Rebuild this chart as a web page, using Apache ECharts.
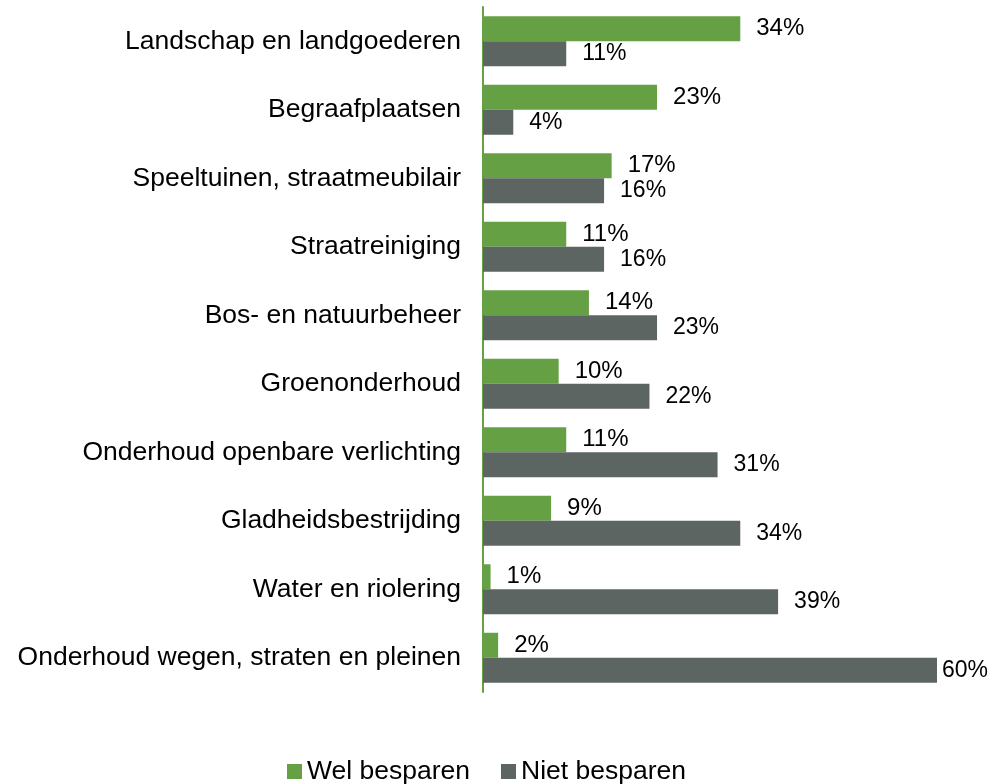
<!DOCTYPE html>
<html>
<head>
<meta charset="utf-8">
<script src="https://cdn.jsdelivr.net/npm/echarts@6/dist/echarts.min.js"></script>
<style>
  html, body {margin: 0; padding: 0; background: #fff;}
  #chart {width: 1004px; height: 784px;}
</style>
</head>
<body>
<div id="chart"></div>
<script>
  const categories = [
    'Landschap en landgoederen',
    'Begraafplaatsen',
    'Speeltuinen, straatmeubilair',
    'Straatreiniging',
    'Bos- en natuurbeheer',
    'Groenonderhoud',
    'Onderhoud openbare verlichting',
    'Gladheidsbestrijding',
    'Water en riolering',
    'Onderhoud wegen, straten en pleinen'
  ];
  const welBesparen = [34, 23, 17, 11, 14, 10, 11, 9, 1, 2];
  const nietBesparen = [11, 4, 16, 16, 23, 22, 31, 34, 39, 60];
  const seriesNames = ['Wel besparen', 'Niet besparen'];

  const green = '#66a044';
  const grey = '#5d6562';
  const font = 'Liberation Sans, Arial, sans-serif';

  const chart = echarts.init(document.getElementById('chart'));
  chart.setOption({
    animation: false,
    textStyle: {fontFamily: font},
    grid: {left: 483, right: 67, top: 7, bottom: 92},
    legend: {
      top: 753,
      left: 282,
      itemWidth: 15,
      itemHeight: 15,
      itemGap: 31,
      icon: 'rect',
      textStyle: {fontSize: 26.5, color: '#000', fontFamily: font, padding: [0, 0, 0, 0]},
      data: seriesNames
    },
    xAxis: {
      type: 'value',
      min: 0,
      max: 60,
      show: false
    },
    yAxis: {
      type: 'category',
      inverse: true,
      data: categories,
      axisLine: {show: true, lineStyle: {color: green, width: 2}},
      axisTick: {show: false},
      axisLabel: {fontSize: 26.5, color: '#000', margin: 22, fontFamily: font}
    },
    series: [
      {
        name: seriesNames[0],
        type: 'bar',
        data: welBesparen,
        barWidth: 25,
        barGap: '0%',
        itemStyle: {color: green},
        label: {
          show: true, position: 'right', distance: 16,
          formatter: '{c}%', fontSize: 24, color: '#000', fontFamily: font
        }
      },
      {
        name: seriesNames[1],
        type: 'bar',
        data: nietBesparen.map(function (v, i) {
          // last bar reaches the edge, its label sits closer
          return i === nietBesparen.length - 1 ? {value: v, label: {distance: 5}} : v;
        }),
        barWidth: 25,
        barGap: '0%',
        itemStyle: {color: grey},
        label: {
          show: true, position: 'right', distance: 16,
          formatter: '{c}%', fontSize: 23, color: '#000', fontFamily: font
        }
      }
    ]
  });
</script>
</body>
</html>
